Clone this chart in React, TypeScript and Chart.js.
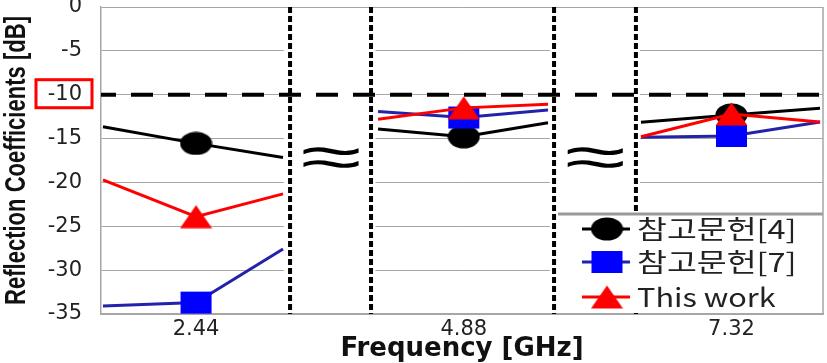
import React, { useEffect, useRef } from 'react';
import { Chart, registerables } from 'chart.js';

Chart.register(...registerables);

// ---- data ----
const tickValues = [2.44, 4.88, 7.32];
const tickLabels = ['2.44', '4.88', '7.32'];
// x of the three points of each band: left edge, centre frequency, right edge
const pointX = [1.592, 2.44, 3.233, 4.099, 4.88, 5.648, 6.495, 7.32, 8.127];
const centreIndex = [1, 4, 7];
const ref4 = [-13.65, -15.55, -17.15, -13.9, -14.8, -13.2, -13.15, -12.3, -11.55];
const ref7 = [-34.1, -33.7, -27.6, -11.9, -12.6, -11.75, -14.85, -14.7, -13.1];
const thisWork = [-19.7, -23.9, -21.3, -12.8, -11.5, -11.1, -14.8, -12.2, -13.1];
const seriesNames = ['참고문헌[4]', '참고문헌[7]', 'This work'];
const yTitle = 'Reflection Coefficients [dB]';
const xTitle = 'Frequency [GHz]';
const breakX = [3.297, 4.035, 5.703, 6.449];
const gridSpanStart = [1.574, 4.075, 6.486];
const gridSpanEnd = [3.24, 5.666, 8.154];
const threshold = -10;
const xMin = 1.574;
const xMax = 8.154;
const yMin = -35;
const yMax = 0;
const yStep = 5;
const breakSymbolY = -17.6;

const BLACK = '#000000';
const BLUE_LINE = '#2222aa';
const BLUE_MARK = '#0000ff';
const RED = '#ff0000';
const GRID = '#a6a6a6';
const TEXT = '#222222';

function makeMarker(kind: string, fill: string, w = 33, h = 24) {
  const c = document.createElement('canvas');
  c.width = w;
  c.height = h;
  const g = c.getContext('2d')!;
  g.fillStyle = fill;
  g.beginPath();
  if (kind === 'circle') {
    g.ellipse(w / 2, h / 2, w / 2 - 0.5, h / 2 - 0.5, 0, 0, Math.PI * 2);
  } else if (kind === 'rect') {
    g.rect(1, 1, w - 2, h - 2);
  } else {
    g.moveTo(w / 2, 0.5);
    g.lineTo(w - 0.5, h - 0.5);
    g.lineTo(0.5, h - 0.5);
    g.closePath();
  }
  g.fill();
  return c;
}

function buildPoints(values: number[]) {
  const pts: any[] = [];
  for (let i = 0; i < values.length; i++) {
    pts.push({ x: pointX[i], y: values[i], centre: centreIndex.includes(i) });
    if (i % 3 === 2 && i < values.length - 1) {
      pts.push({ x: (pointX[i] + pointX[i + 1]) / 2, y: null });
    }
  }
  return pts;
}

export default function App() {
  const ref = useRef<HTMLCanvasElement>(null);

  useEffect(() => {
    const canvas = ref.current!;
    const circle = makeMarker('circle', BLACK);
    const square = makeMarker('rect', BLUE_MARK);
    const tri = makeMarker('tri', RED);
    const markers = [circle, square, tri];
    const lineColors = [BLACK, BLUE_LINE, RED];

    const seriesDs = (label: string, values: number[], color: string, marker: any) => ({
      label,
      data: buildPoints(values),
      borderColor: color,
      backgroundColor: color,
      borderWidth: 3,
      pointStyle: marker,
      pointRadius: (c: any) => (c.raw && c.raw.centre ? 8 : 0),
      pointHoverRadius: 0,
      spanGaps: false,
      tension: 0,
    });

    const breakDs = breakX.map((bx) => ({
      label: 'break',
      data: [
        { x: bx, y: yMax },
        { x: bx, y: yMin },
      ],
      borderColor: BLACK,
      borderWidth: 4,
      borderDash: [6, 3],
      pointRadius: 0,
    }));

    const thresholdDs = {
      label: 'threshold',
      data: [
        { x: xMin, y: threshold },
        { x: xMax, y: threshold },
      ],
      borderColor: BLACK,
      borderWidth: 4,
      borderDash: [22, 15],
      borderDashOffset: 7,
      pointRadius: 0,
    };

    const gridMask = {
      id: 'gridMask',
      beforeDatasetsDraw(chart: any) {
        const { ctx, chartArea, scales } = chart;
        ctx.save();
        ctx.fillStyle = '#ffffff';
        for (let i = 0; i < gridSpanEnd.length - 1; i++) {
          const a = scales.x.getPixelForValue(gridSpanEnd[i]);
          const b = scales.x.getPixelForValue(gridSpanStart[i + 1]);
          ctx.fillRect(a, chartArea.top + 2, b - a, chartArea.bottom - chartArea.top - 3);
        }
        ctx.restore();
      },
    };

    const decorations = {
      id: 'decorations',
      afterDatasetsDraw(chart: any) {
        const { ctx, chartArea, scales } = chart;
        ctx.save();
        // break symbols
        ctx.fillStyle = BLACK;
        ctx.font = '62px "Liberation Sans"';
        ctx.textAlign = 'center';
        ctx.textBaseline = 'middle';
        for (let i = 0; i < breakX.length; i += 2) {
          const cx = scales.x.getPixelForValue((breakX[i] + breakX[i + 1]) / 2);
          const cy = scales.y.getPixelForValue(breakSymbolY);
          ctx.save();
          ctx.translate(cx, cy);
          ctx.scale(1.8, 1);
          ctx.fillText('≈', 0, 0);
          ctx.restore();
        }
        // y-axis title (condensed along its length, like the original)
        ctx.save();
        ctx.fillStyle = '#111111';
        ctx.font = 'bold 29px "Liberation Sans"';
        ctx.translate(17, (chartArea.top + chartArea.bottom) / 2);
        ctx.rotate(-Math.PI / 2);
        ctx.scale(0.76, 1);
        ctx.fillText(yTitle, 0, 0);
        ctx.restore();
        // legend box
        const left = chartArea.right - 265;
        const top = chartArea.top + 207;
        ctx.fillStyle = '#ffffff';
        ctx.fillRect(left, top, chartArea.right - left, chartArea.bottom - 1 - top);
        ctx.strokeStyle = '#999999';
        ctx.lineWidth = 3;
        ctx.beginPath();
        ctx.moveTo(left, top);
        ctx.lineTo(chartArea.right, top);
        ctx.stroke();
        const rows = [15, 48, 83];
        ctx.font = '26px "Noto Sans CJK KR", "DejaVu Sans"';
        ctx.textAlign = 'left';
        for (let i = 0; i < 3; i++) {
          const y = top + rows[i];
          ctx.strokeStyle = lineColors[i];
          ctx.lineWidth = 3;
          ctx.beginPath();
          ctx.moveTo(left + 24, y);
          ctx.lineTo(left + 72, y);
          ctx.stroke();
          const m = markers[i];
          ctx.drawImage(m, left + 49 - m.width / 2, y - m.height / 2);
          ctx.fillStyle = TEXT;
          ctx.save();
          ctx.translate(left + 79, y);
          ctx.scale(i === 2 ? 1.18 : 1.25, 1);
          ctx.fillText(seriesNames[i], 0, 0);
          ctx.restore();
        }
        // right frame line
        ctx.strokeStyle = GRID;
        ctx.lineWidth = 1.5;
        ctx.beginPath();
        ctx.moveTo(chartArea.right, chartArea.top);
        ctx.lineTo(chartArea.right, chartArea.bottom);
        ctx.stroke();
        // red box around the -10 dB tick label
        const ty = scales.y.getPixelForValue(threshold);
        ctx.strokeStyle = RED;
        ctx.lineWidth = 3;
        ctx.strokeRect(chartArea.left - 65, ty - 15, 56, 28);
        ctx.restore();
      },
    };

    const chart = new Chart(canvas, {
      type: 'line',
      data: {
        datasets: [
          seriesDs(seriesNames[2], thisWork, RED, tri),
          seriesDs(seriesNames[1], ref7, BLUE_LINE, square),
          seriesDs(seriesNames[0], ref4, BLACK, circle),
          thresholdDs,
          ...breakDs,
        ] as any,
      },
      options: {
        animation: false,
        responsive: false,
        devicePixelRatio: 1,
        layout: { padding: { top: 7, right: 4, left: 0, bottom: 0 } },
        plugins: { legend: { display: false }, tooltip: { enabled: false } },
        scales: {
          x: {
            type: 'linear',
            min: xMin,
            max: xMax,
            afterBuildTicks: (s: any) => {
              s.ticks = tickValues.map((v) => ({ value: v }));
            },
            ticks: {
              callback: (_v: any, i: number) => tickLabels[i],
              font: { family: 'DejaVu Sans', size: 21 },
              color: TEXT,
              padding: 3,
              maxRotation: 0,
              autoSkip: false,
            },
            grid: { display: false, drawTicks: false },
            border: { display: true, color: GRID, width: 2 },
            title: {
              display: true,
              text: xTitle,
              font: { family: 'DejaVu Sans', size: 26, weight: 'bold', lineHeight: 1 },
              color: '#111111',
              padding: { top: 0, bottom: 1 },
            },
            afterFit: (s: any) => {
              s.height = 49;
              s.paddingLeft = 0;
              s.paddingRight = 0;
            },
          },
          y: {
            type: 'linear',
            min: yMin,
            max: yMax,
            ticks: {
              stepSize: yStep,
              font: { family: 'DejaVu Sans', size: 21 },
              color: TEXT,
              padding: 19,
            },
            grid: { color: GRID, lineWidth: 1, drawTicks: false },
            border: { display: true, color: GRID, width: 1.5 },
            title: { display: false },
            afterFit: (s: any) => {
              s.width = 101;
              s.paddingTop = 0;
              s.paddingBottom = 0;
            },
          },
        },
      } as any,
      plugins: [gridMask, decorations],
    });

    return () => chart.destroy();
  }, []);

  return (
    <div style={{ position: 'absolute', left: 0, top: 0, width: 827, height: 363, background: '#fff' }}>
      <canvas ref={ref} width={827} height={363} style={{ display: 'block' }} />
    </div>
  );
}
